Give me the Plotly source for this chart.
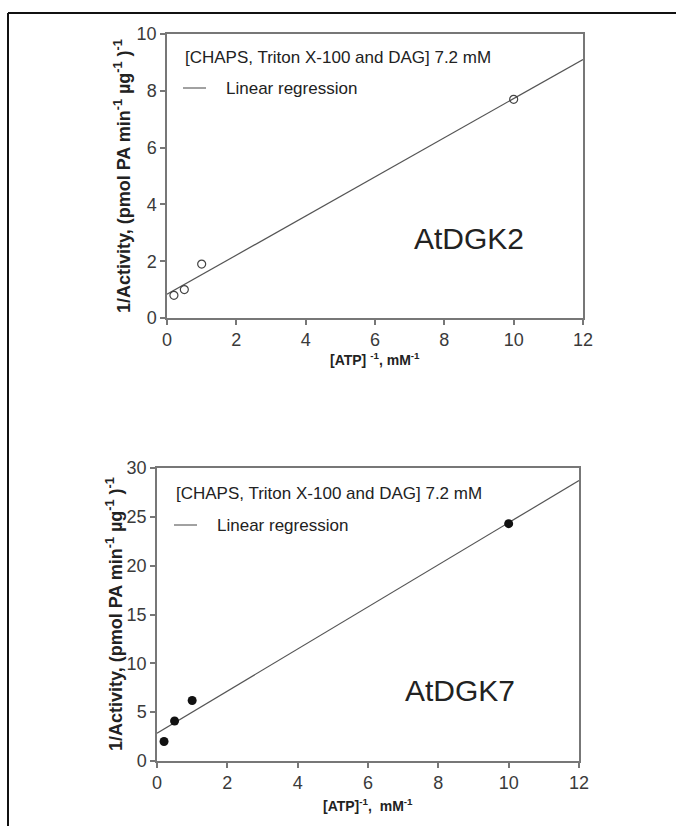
import numpy as np
import plotly.graph_objects as go

W, H = 676, 826

# ---- data ----
atp_inv = [0.2, 0.5, 1.0, 10.0]
dgk2_inv_activity = [0.8, 1.0, 1.9, 7.7]
dgk7_inv_activity = [2.0, 4.1, 6.2, 24.3]
x_range = [0, 12]
x_ticks = [0, 2, 4, 6, 8, 10, 12]
y2_ticks = [0, 2, 4, 6, 8, 10]
y7_ticks = [0, 5, 10, 15, 20, 25, 30]
condition_label = "[CHAPS, Triton X-100 and DAG] 7.2 mM"
legend_label = "Linear regression"
names = ["AtDGK2", "AtDGK7"]

def px(x):
    return x / W

def py(y):
    return 1 - y / H

fig = go.Figure()

# fits
fit2 = np.polyfit(atp_inv, dgk2_inv_activity, 1)
fit7 = np.polyfit(atp_inv, dgk7_inv_activity, 1)
xl = np.array(x_range, dtype=float)

fig.add_trace(go.Scatter(x=xl, y=np.polyval(fit2, xl), mode="lines",
                         line=dict(color="#555", width=1.2), xaxis="x", yaxis="y",
                         showlegend=False))
fig.add_trace(go.Scatter(x=atp_inv, y=dgk2_inv_activity, mode="markers",
                         marker=dict(symbol="circle-open", size=8, color="#444",
                                     line=dict(width=1.2, color="#444")),
                         xaxis="x", yaxis="y", showlegend=False))
fig.add_trace(go.Scatter(x=xl, y=np.polyval(fit7, xl), mode="lines",
                         line=dict(color="#555", width=1.2), xaxis="x2", yaxis="y2",
                         showlegend=False))
fig.add_trace(go.Scatter(x=atp_inv, y=dgk7_inv_activity, mode="markers",
                         marker=dict(symbol="circle", size=9, color="#111"),
                         xaxis="x2", yaxis="y2", showlegend=False))

tickfont = dict(family="Liberation Sans, Arial", size=18, color="#3a3a3a")
ax_common = dict(showline=True, linecolor="#777", linewidth=1.5, mirror=True,
                 ticks="outside", ticklen=5, tickcolor="#777", tickwidth=1.5,
                 showgrid=False, zeroline=False, tickfont=tickfont, automargin=False)

fig.update_layout(
    width=W, height=H,
    margin=dict(l=0, r=0, t=0, b=0),
    paper_bgcolor="white", plot_bgcolor="white",
    xaxis=dict(domain=[px(167), px(583)], range=x_range, tickvals=x_ticks,
               anchor="y", **ax_common),
    yaxis=dict(domain=[py(318), py(34)], range=[0, 10], tickvals=y2_ticks,
               anchor="x", **ax_common),
    xaxis2=dict(domain=[px(157), px(579)], range=x_range, tickvals=x_ticks,
                anchor="y2", **ax_common),
    yaxis2=dict(domain=[py(761), py(468)], range=[0, 30], tickvals=y7_ticks,
                anchor="x2", **ax_common),
)

txt = dict(family="Liberation Sans, Arial", size=17, color="#222")
bold = dict(family="Liberation Sans, Arial", size=14, color="#222")
ybold = dict(family="Liberation Sans, Arial", size=18, color="#222")
annos = []
shapes = []

def add_anno(x, y, text, font, **kw):
    d = dict(x=px(x), y=py(y), xref="paper", yref="paper", text=text,
             showarrow=False, font=font, xanchor="center", yanchor="middle")
    d.update(kw)
    annos.append(d)

def panel_text(y_cond, y_leg, x0, name, nx, ny):
    add_anno(x0, y_cond, condition_label, txt, xanchor="left")
    shapes.append(dict(type="line", xref="paper", yref="paper",
                       x0=px(x0), x1=px(x0 + 23), y0=py(y_leg), y1=py(y_leg),
                       line=dict(color="#444", width=1)))
    add_anno(x0 + 41, y_leg, legend_label, txt, xanchor="left")
    add_anno(nx, ny, name, dict(family="Liberation Sans, Arial", size=30, color="#222"),
             xanchor="left")

panel_text(58, 88, 183, names[0], 412, 238)
panel_text(493, 525, 174, names[1], 403, 690)

ytitle = "1/Activity, (pmol PA min<sup>-1</sup> µg<sup>-1</sup> )<sup>-1</sup>"
add_anno(122, 176, "<b>" + ytitle + "</b>", ybold, textangle=-90)
add_anno(114, 614, "<b>" + ytitle + "</b>", ybold, textangle=-90)
add_anno(375, 359, "<b>[ATP] <sup>-1</sup>, mM<sup>-1</sup></b>", bold)
add_anno(368, 805, "<b>[ATP]<sup>-1</sup>,  mM<sup>-1</sup></b>", bold)

# outer frame
shapes.append(dict(type="line", xref="paper", yref="paper", x0=px(8), x1=1.0,
                   y0=py(13), y1=py(13), line=dict(color="#111", width=2)))
shapes.append(dict(type="line", xref="paper", yref="paper", x0=px(8), x1=px(8),
                   y0=py(13), y1=0, line=dict(color="#111", width=2)))

fig.update_layout(annotations=annos, shapes=shapes)
fig.write_html("out.html")
